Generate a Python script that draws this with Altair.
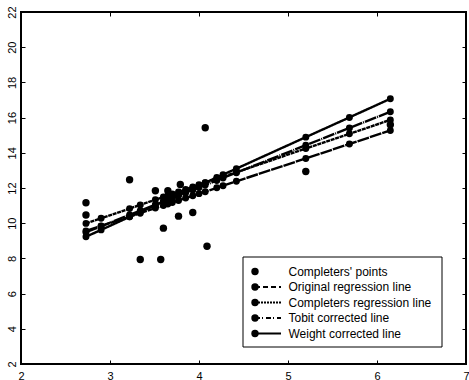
import altair as alt
import pandas as pd

# ---- data ----
line_x = [2.73, 2.90, 3.22, 3.34, 3.51, 3.60, 3.65, 3.70, 3.77, 3.85, 3.93, 4.00, 4.07, 4.20, 4.27, 4.42, 5.20, 5.69, 6.15]
original_y = [9.56, 9.84, 10.37, 10.57, 10.86, 11.01, 11.09, 11.18, 11.29, 11.43, 11.56, 11.68, 11.79, 12.01, 12.13, 12.38, 13.68, 14.50, 15.27]
completers_y = [9.99, 10.28, 10.83, 11.04, 11.33, 11.49, 11.57, 11.66, 11.78, 11.92, 12.06, 12.18, 12.30, 12.52, 12.64, 12.90, 14.24, 15.08, 15.87]
tobit_y = [9.49, 9.83, 10.47, 10.71, 11.05, 11.23, 11.33, 11.43, 11.57, 11.73, 11.89, 12.03, 12.17, 12.43, 12.57, 12.87, 14.43, 15.41, 16.33]
weight_y = [9.23, 9.62, 10.36, 10.63, 11.02, 11.23, 11.34, 11.46, 11.62, 11.80, 11.98, 12.14, 12.30, 12.60, 12.76, 13.10, 14.89, 16.01, 17.07]

pts_x = [2.73, 2.73, 3.22, 3.34, 3.51, 3.57, 3.60, 3.65, 3.77, 3.79, 3.93, 4.07, 4.09, 5.20, 6.15]
pts_y = [11.16, 10.47, 12.47, 7.94, 11.84, 7.94, 9.72, 11.84, 10.40, 12.20, 10.61, 15.42, 8.69, 12.94, 15.60]

series_names = ["Original regression line", "Completers regression line",
                "Tobit corrected line", "Weight corrected line"]
points_name = "Completers' points"

x_ticks = [2, 3, 4, 5, 6, 7]
y_ticks = [2, 4, 6, 8, 10, 12, 14, 16, 18, 20, 22]

# ---- tables ----
series_vals = [original_y, completers_y, tobit_y, weight_y]
rows = []
for name, ys in zip(series_names, series_vals):
    for xv, yv in zip(line_x, ys):
        rows.append({"x": xv, "y": yv, "series": name})
lines_df = pd.DataFrame(rows)
pts_df = pd.DataFrame({"x": pts_x, "y": pts_y})

W, H = 445, 352
FONT = "Liberation Sans"
xscale = alt.Scale(domain=[2, 7], nice=False, zero=False)
yscale = alt.Scale(domain=[2, 22], nice=False, zero=False)

plot_dash = [[12, 1], [4, 0.7], [12, 1, 1, 1], [1, 0]]
legend_dash = [[5, 3], [2, 1], [5, 2, 1, 3], [1, 0]]

ax_common = dict(tickSize=4, offset=-4, domain=False, grid=False,
                 tickColor="black", tickWidth=1, title=None)

x_bottom = alt.Axis(orient="bottom", values=x_ticks, labelFont=FONT, labelFontSize=11,
                    labelColor="black", labelPadding=6, labelFlush=False, **ax_common)
y_left = alt.Axis(orient="left", values=y_ticks, labelFont=FONT, labelFontSize=11,
                  labelColor="black", labelAngle=270, labelAlign="center",
                  labelBaseline="bottom", labelPadding=4, labelFlush=False, **ax_common)
x_top = alt.Axis(orient="top", values=x_ticks, labels=False, **ax_common)
y_right = alt.Axis(orient="right", values=y_ticks, labels=False, **ax_common)

scatter = alt.Chart(pts_df).mark_circle(color="black", opacity=1, size=55).encode(
    x=alt.X("x:Q", scale=xscale, axis=x_bottom),
    y=alt.Y("y:Q", scale=yscale, axis=y_left),
)

lines = alt.Chart(lines_df).mark_line(color="black", strokeWidth=2.4).encode(
    x=alt.X("x:Q", scale=xscale, axis=x_top),
    y=alt.Y("y:Q", scale=yscale, axis=y_right),
    detail="series:N",
    strokeDash=alt.StrokeDash("series:N", scale=alt.Scale(domain=series_names, range=plot_dash), legend=None),
)
markers = alt.Chart(lines_df).mark_circle(color="black", opacity=1, size=48).encode(
    x=alt.X("x:Q", scale=xscale, axis=None),
    y=alt.Y("y:Q", scale=yscale, axis=None),
)

# ---- custom legend (pixel positions inside plot area) ----
one = pd.DataFrame({"a": [0]})
box = alt.Chart(one).mark_rect(fill="white", stroke="black", strokeWidth=1).encode(
    x=alt.value(222), x2=alt.value(421), y=alt.value(245), y2=alt.value(335))
leg_layers = [box]
labels = [points_name] + series_names
row_y0, row_dy = 259.5, 15.5
for i, lab in enumerate(labels):
    yy = row_y0 + i * row_dy
    if i > 0:
        leg_layers.append(alt.Chart(one).mark_rule(color="black", strokeWidth=2,
                                                   strokeDash=legend_dash[i - 1]).encode(
            x=alt.value(234), x2=alt.value(260), y=alt.value(yy)))
    leg_layers.append(alt.Chart(one).mark_circle(color="black", opacity=1, size=55).encode(
        x=alt.value(234), y=alt.value(yy)))
    leg_layers.append(alt.Chart(one).mark_text(align="left", baseline="middle", font=FONT,
                                               fontSize=12, color="black").encode(
        x=alt.value(267.5), y=alt.value(yy), text=alt.value(lab)))

chart = alt.layer(scatter, lines, markers, *leg_layers).resolve_axis(
    x="independent", y="independent"
).properties(
    width=W, height=H,
    background="white",
    autosize=alt.AutoSizeParams(type="none"),
    padding={"left": 21, "top": 12, "right": 3, "bottom": 16},
).configure_view(stroke="black", strokeWidth=2)

chart.save("out.html", embed_options={"renderer": "svg", "actions": False})
